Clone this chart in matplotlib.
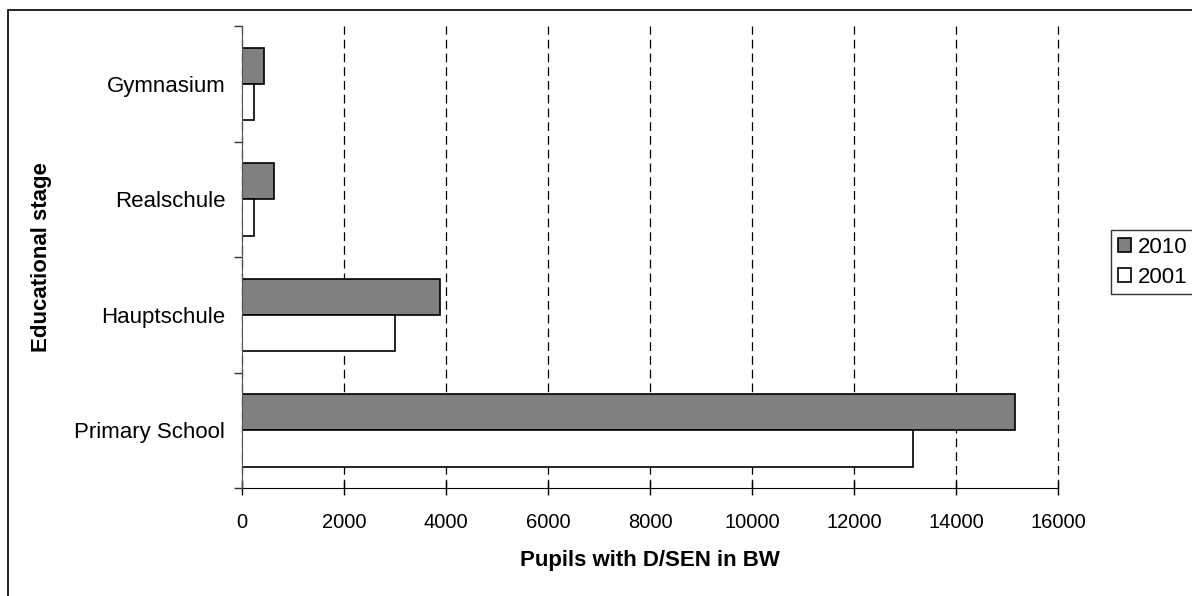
import numpy as np
import matplotlib.pyplot as plt
from matplotlib.patches import Rectangle

plt.rcParams['font.family'] = ['Liberation Sans', 'DejaVu Sans']

stages = ['Primary School', 'Hauptschule', 'Realschule', 'Gymnasium']
pupils_2010 = [15160, 3880, 620, 440]
pupils_2001 = [13160, 3000, 240, 240]

fig = plt.figure(figsize=(11.92, 5.96), dpi=100)
ax = fig.add_axes([0.203, 0.181, 0.6846, 0.775])

# outer frame of the chart area (right and bottom edges fall off the figure)
fig.patches.append(Rectangle((8 / 1192, -0.1), 1.2, (596 - 10) / 596 + 0.1,
                             transform=fig.transFigure, fill=False,
                             edgecolor='black', linewidth=1.2))

y = np.arange(len(stages))
h = 0.315
ax.barh(y + h / 2, pupils_2010, height=h, color='#808080', edgecolor='black',
        linewidth=1.2, label='2010', zorder=3)
ax.barh(y - h / 2, pupils_2001, height=h, color='white', edgecolor='black',
        linewidth=1.2, label='2001', zorder=3)

ax.set_xlim(0, 16000)
ax.set_ylim(-0.5, len(stages) - 0.5)
ax.set_xticks(np.arange(0, 16001, 2000))
ax.set_yticks(y)
ax.set_yticklabels(stages)
ax.set_yticks(np.arange(-0.5, len(stages)), minor=True)
ax.tick_params(axis='y', which='major', length=0, pad=12, labelsize=16)
ax.tick_params(axis='y', which='minor', length=6, width=1, color='#333333')
ax.tick_params(axis='x', direction='inout', length=10, width=1, labelsize=14.5, pad=13)

ax.grid(axis='x', color='black', linestyle=(0, (7, 4)), linewidth=0.9, zorder=0)
for gl in ax.get_xgridlines():
    gl.set_clip_on(False)
ax.spines['top'].set_visible(False)
ax.spines['right'].set_visible(False)
ax.spines['left'].set_color('#555555')
ax.spines['left'].set_zorder(4)

ax.set_xlabel('Pupils with D/SEN in BW', fontsize=16, fontweight='bold', labelpad=13)
ax.set_ylabel('Educational stage', fontsize=16, fontweight='bold', labelpad=16)

handles, labels = ax.get_legend_handles_labels()
leg = fig.legend(handles, labels, loc='center left', bbox_to_anchor=(1111 / 1192, 0.56),
                 fontsize=16, frameon=True, fancybox=False, edgecolor='black',
                 handlelength=0.6, handleheight=0.6, handletextpad=0.3,
                 borderpad=0.3, labelspacing=0.4, borderaxespad=0)
leg.get_frame().set_linewidth(1)

fig.savefig('out.png', dpi=100)
